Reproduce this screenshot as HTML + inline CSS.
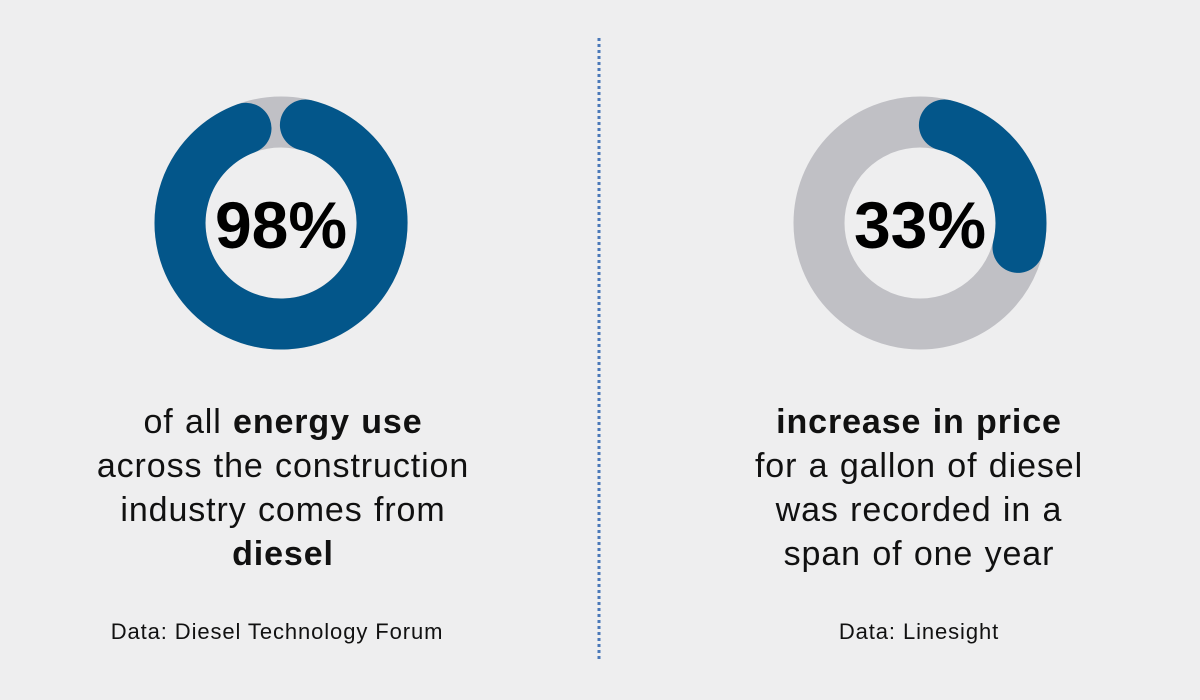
<!DOCTYPE html>
<html><head><meta charset="utf-8"><style>
html,body{margin:0;padding:0;background:#eeeeef;}
body{width:1200px;height:700px;position:relative;overflow:hidden;font-family:"Liberation Sans","DejaVu Sans",sans-serif;color:#111;}
.cap{position:absolute;width:600px;text-align:center;font-size:34px;line-height:44px;letter-spacing:0.9px;word-spacing:1px;}
.src{position:absolute;width:600px;text-align:center;font-size:22px;letter-spacing:0.9px;}
b{font-weight:bold;}
</style></head><body>
<svg width="1200" height="700" style="position:absolute;left:0;top:0">
<line x1="599" y1="38" x2="599" y2="662" stroke="#4a78b8" stroke-width="3" stroke-dasharray="3 3"/>
<circle cx="281" cy="223" r="101" fill="none" stroke="#c0c0c5" stroke-width="51"/>
<circle cx="920" cy="223" r="101" fill="none" stroke="#c0c0c5" stroke-width="51"/>
<path d="M 305.4 125 A 101 101 0 1 1 246 128.3" fill="none" stroke="#03568a" stroke-width="51" stroke-linecap="round"/>
<path d="M 944.4 125 A 101 101 0 0 1 1018 247.4" fill="none" stroke="#03568a" stroke-width="51" stroke-linecap="round"/>
<text x="281" y="248" text-anchor="middle" font-family="Liberation Sans, sans-serif" font-weight="bold" font-size="66" fill="#000">98%</text>
<text x="920" y="248" text-anchor="middle" font-family="Liberation Sans, sans-serif" font-weight="bold" font-size="66" fill="#000">33%</text>
</svg>
<div class="cap" style="left:-17px;top:400px">of all <b>energy use</b><br>across the construction<br>industry comes from<br><b>diesel</b></div>
<div class="cap" style="left:619px;top:400px"><b>increase in price</b><br>for a gallon of diesel<br>was recorded in a<br>span of one year</div>
<div class="src" style="left:-23px;top:619px">Data: Diesel Technology Forum</div>
<div class="src" style="left:619px;top:619px">Data: Linesight</div>
</body></html>
